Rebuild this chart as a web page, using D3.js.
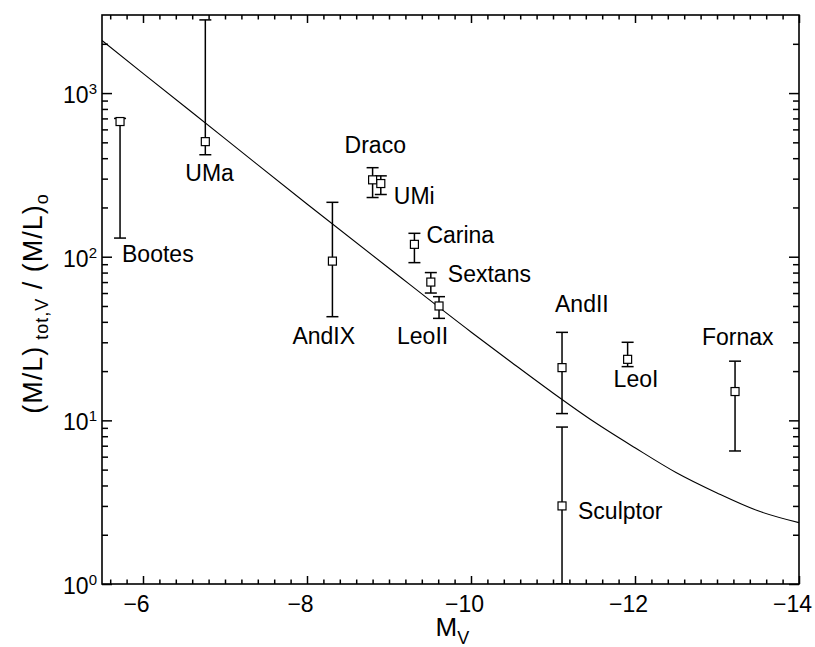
<!DOCTYPE html>
<html>
<head>
<meta charset="utf-8">
<script src="https://cdn.jsdelivr.net/npm/d3@7"></script>
<style>
  body { margin: 0; background: #fff; }
  svg { display: block; font-family: "Liberation Sans", Arial, Helvetica, sans-serif; }
</style>
</head>
<body>
<div id="chart"></div>
<script>
// dwarf spheroidal mass-to-light ratios vs absolute V magnitude
const galaxies = ["Bootes", "UMa", "Draco", "UMi", "AndIX", "Carina", "Sextans", "LeoII", "AndII", "Sculptor", "LeoI", "Fornax"];
const magV = [-5.72, -6.76, -8.80, -8.90, -8.31, -9.31, -9.51, -9.61, -11.11, -11.11, -11.91, -13.22];
const massToLight = [670, 505, 295, 280, 94, 119, 70, 50, 21, 3.0, 23.6, 15];
const mlLow = [130, 420, 230, 240, 43, 92, 60, 42, 11, 1, 21.3, 6.5];
const mlHigh = [700, 2800, 350, 312, 215, 139, 80, 57, 34.5, 9.1, 30, 23];

// model curve
const modelMagV = [-5.5, -6.0, -7.0, -8.0, -9.0, -10.0, -10.5, -11.0, -11.5, -12.0, -12.5, -13.0, -13.5, -14.0];
const modelML = [2094, 1320, 527, 210, 85, 34.7, 22.5, 14.7, 9.8, 6.8, 4.8, 3.6, 2.8, 2.37];

const xTickValues = [-6, -8, -10, -12, -14];
const yTickValues = [1, 10, 100, 1000];
const yTickExponents = ["0", "1", "2", "3"];

// label placement relative to each point (px)
const labelOffsets = {
  Bootes: [2, 140], UMa: [-20, 39], Draco: [-28, -27], UMi: [13, 20.5],
  AndIX: [-40, 83], Carina: [12, -1.5], Sextans: [17, 0], LeoII: [-42, 38],
  AndII: [-7, -56], Sculptor: [16, 13], LeoI: [-14, 28], Fornax: [-33, -46.5],
};

const width = 815, height = 647;
const margin = { top: 15, right: 16, bottom: 63, left: 102 };
const plot_bottom = height - margin.bottom, plot_top = margin.top;
const plot_left = margin.left, plot_right = width - margin.right;

const x = d3.scaleLinear().domain([-5.5, -14]).range([plot_left, plot_right]);
const y = d3.scaleLog().domain([1, 3000]).range([plot_bottom, plot_top]);

const svg = d3.select("#chart").append("svg")
  .attr("width", width)
  .attr("height", height);

svg.append("defs").append("clipPath").attr("id", "plot_clip")
  .append("rect")
  .attr("x", plot_left).attr("y", plot_top)
  .attr("width", plot_right - plot_left)
  .attr("height", plot_bottom - plot_top);

const xMinor = d3.range(-5.6, -14.01, -0.2).map((v) => +v.toFixed(1)).filter((v) => !xTickValues.includes(v));
const yMinor = [];
[1, 10, 100, 1000].forEach((decade) => {
  d3.range(2, 10).forEach((m) => { if (decade * m < 3000) yMinor.push(decade * m); });
});

function strip(g) {
  g.select(".domain").remove();
  g.selectAll("line").attr("stroke", "#000").attr("stroke-width", 1.5);
}

// bottom / top axes (ticks point inward)
svg.append("g").attr("transform", `translate(0,${plot_bottom})`)
  .call(d3.axisBottom(x).tickValues(xTickValues).tickSize(-8).tickPadding(12).tickFormat(d3.format("d")))
  .call(strip)
  .call((g) => g.selectAll("text").attr("font-size", 23).attr("fill", "#000").attr("dx", -7)
    .attr("font-family", "Liberation Sans, Arial, sans-serif"));
svg.append("g").attr("transform", `translate(0,${plot_bottom})`)
  .call(d3.axisBottom(x).tickValues(xMinor).tickSize(-4.5).tickFormat(""))
  .call(strip);
svg.append("g").attr("transform", `translate(0,${plot_top})`)
  .call(d3.axisTop(x).tickValues(xTickValues).tickSize(-8).tickFormat(""))
  .call(strip);
svg.append("g").attr("transform", `translate(0,${plot_top})`)
  .call(d3.axisTop(x).tickValues(xMinor).tickSize(-4.5).tickFormat(""))
  .call(strip);

// left / right axes
svg.append("g").attr("transform", `translate(${plot_left},0)`)
  .call(d3.axisLeft(y).tickValues(yTickValues).tickSize(-10).tickFormat(""))
  .call(strip);
svg.append("g").attr("transform", `translate(${plot_left},0)`)
  .call(d3.axisLeft(y).tickValues(yMinor).tickSize(-6).tickFormat(""))
  .call(strip);
svg.append("g").attr("transform", `translate(${plot_right},0)`)
  .call(d3.axisRight(y).tickValues(yTickValues).tickSize(-10).tickFormat(""))
  .call(strip);
svg.append("g").attr("transform", `translate(${plot_right},0)`)
  .call(d3.axisRight(y).tickValues(yMinor).tickSize(-6).tickFormat(""))
  .call(strip);

// y tick labels as 10^n
yTickValues.forEach((v, i) => {
  const t = svg.append("text")
    .attr("x", plot_left - 5)
    .attr("y", y(v) + 10)
    .attr("text-anchor", "end")
    .attr("font-size", 23);
  t.append("tspan").text("10");
  t.append("tspan").attr("dy", -9).attr("font-size", 15).text(yTickExponents[i]);
});

// frame
svg.append("rect")
  .attr("x", plot_left).attr("y", plot_top)
  .attr("width", plot_right - plot_left).attr("height", plot_bottom - plot_top)
  .attr("fill", "none").attr("stroke", "#000").attr("stroke-width", 1.6);

const plot = svg.append("g").attr("clip-path", "url(#plot_clip)");

// model curve
const model = modelMagV.map((v, i) => [v, modelML[i]]);
plot.append("path")
  .attr("d", d3.line().x((d) => x(d[0])).y((d) => y(d[1])).curve(d3.curveMonotoneX)(model))
  .attr("fill", "none")
  .attr("stroke", "#000")
  .attr("stroke-width", 1.1);

// error bars
const rows = galaxies.map((name, i) => ({ name, mv: magV[i], ml: massToLight[i], lo: mlLow[i], hi: mlHigh[i] }));
const cap = 6;
const bars = plot.append("g").attr("stroke", "#000").attr("stroke-width", 1.5);
rows.forEach((d) => {
  const cx = x(d.mv);
  bars.append("line").attr("x1", cx).attr("x2", cx).attr("y1", y(d.lo)).attr("y2", y(d.hi));
  bars.append("line").attr("x1", cx - cap).attr("x2", cx + cap).attr("y1", y(d.lo)).attr("y2", y(d.lo));
  bars.append("line").attr("x1", cx - cap).attr("x2", cx + cap).attr("y1", y(d.hi)).attr("y2", y(d.hi));
});

// square markers
const sq = 8;
plot.append("g")
  .selectAll("rect")
  .data(rows)
  .join("rect")
  .attr("x", (d) => x(d.mv) - sq / 2)
  .attr("y", (d) => y(d.ml) - sq / 2)
  .attr("width", sq).attr("height", sq)
  .attr("fill", "#fff")
  .attr("stroke", "#000")
  .attr("stroke-width", 1.2);

// galaxy labels
svg.append("g")
  .selectAll("text")
  .data(rows)
  .join("text")
  .attr("x", (d) => x(d.mv) + labelOffsets[d.name][0])
  .attr("y", (d) => y(d.ml) + labelOffsets[d.name][1])
  .attr("font-size", 23)
  .text((d) => d.name);

// axis titles
const xt = svg.append("text")
  .attr("x", (plot_left + plot_right) / 2 - 15)
  .attr("y", 636)
  .attr("font-size", 26);
xt.append("tspan").text("M");
xt.append("tspan").attr("dy", 8).attr("font-size", 18).text("V");

const yt = svg.append("text")
  .attr("transform", `translate(42,${(plot_top + plot_bottom) / 2 + 4}) rotate(-90)`)
  .attr("text-anchor", "middle")
  .attr("font-size", 27)
  .attr("letter-spacing", 1);
yt.append("tspan").text("(M/L)");
yt.append("tspan").attr("dy", 6).attr("font-size", 18).text(" tot,V");
yt.append("tspan").attr("dy", -6).text("  /  (M/L)");
yt.append("tspan").attr("dy", 6).attr("font-size", 18).text("o");
</script>
</body>
</html>
